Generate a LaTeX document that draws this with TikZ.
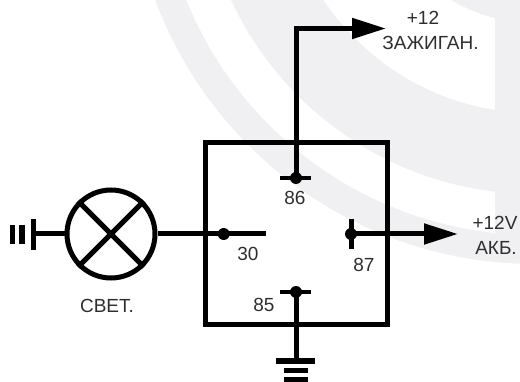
\documentclass[tikz,border=0pt]{standalone}
\usepackage{fontspec}
\setmainfont{Liberation Sans}
\usetikzlibrary{arrows.meta}
\definecolor{band}{HTML}{F0F0F3}
\definecolor{txt}{HTML}{2E2E2E}
\tikzset{
  wire/.style={draw=black,line width=5pt,line join=miter},
  bar/.style={draw=black,line width=4.6pt},
  lbl/.style={font=\fontsize{19}{21}\selectfont,text=txt,inner sep=0pt,text height=13.5pt,text depth=0pt,anchor=center},
  contact/.style={circle,fill=black,inner sep=0pt,minimum size=12pt},
  tip/.style={-{Triangle[length=34pt,width=20pt]}},
}
\begin{document}
\begin{tikzpicture}[x=1pt,y=-1pt]
\useasboundingbox (0,0) rectangle (520,382);
% watermark
\begin{scope}
  \clip (0,0) rectangle (520,382);
  \fill[band] (535,-141) circle[radius=405];
  \begin{scope}
    \clip (0,0) rectangle (495,382);
    \fill[white] (535,-141) circle[radius=376];
    \fill[band] (535,-141) circle[radius=335];
    \fill[white] (535,-141) circle[radius=254];
    \fill[band] (535,-141) circle[radius=164];
  \end{scope}
\end{scope}
% relay box
\node[draw=black,line width=5pt,minimum width=182pt,minimum height=182pt,inner sep=0pt] (relay) at (296,234) {};
% lamp
\node[circle,draw=black,line width=5pt,minimum size=88pt,inner sep=0pt,fill=none] (lamp) at (111,234) {};
\draw[line width=5pt] (lamp.45) -- (lamp.225);
\draw[line width=5pt] (lamp.135) -- (lamp.315);
% contacts
\node[contact] (c30) at (223.7,234) {};
\node[contact] (c86) at (296,178) {};
\node[contact] (c87) at (351,234) {};
\node[contact] (c85) at (296,292) {};
% coordinates
\coordinate (g1) at (33.5,234);
\coordinate (e30) at (265.7,234);
\coordinate (corner) at (296,28.5);
\coordinate (t86) at (386,28.5);
\coordinate (t87) at (458,234);
\coordinate (gnd) at (296,361);
% connectors
\draw[wire] (g1) -- (lamp.west);
\draw[wire] (lamp.east) -- (c30.center) -- (e30);
\draw[wire,tip] (c86.center) -- (corner) -- (t86);
\draw[wire,tip] (c87.center) -- (t87);
\draw[wire] (c85.center) -- (gnd);
% contact bars
\draw[bar] (280,178) -- (311,178);
\draw[bar] (351.5,219) -- (351.5,249);
\draw[bar] (280,292) -- (311,292);
% ground left
\draw[line width=5pt] (33.5,219) -- (33.5,250);
\draw[line width=5.4pt] (12.7,225) -- (12.7,244);
\draw[line width=5.4pt] (21.8,225) -- (21.8,244);
% ground bottom
\draw[line width=6pt] (276,361) -- (315,361);
\draw[line width=5pt] (284,371) -- (308,371);
\draw[line width=5pt] (284,379.3) -- (308,379.3);
% labels
\node[lbl] (l86) at (295,198) {86};
\node[lbl] (l30) at (248,254) {30};
\node[lbl] (l87) at (364,265) {87};
\node[lbl] (l85) at (264,305) {85};
\node[lbl] (lsv) at (107,306) {СВЕТ.};
\node[lbl] (lp12) at (423,18) {+12};
\node[lbl] (lz) at (430.5,43) {ЗАЖИГАН.};
\node[lbl] (lp12v) at (495,223) {+12V};
\node[lbl] (lak) at (496,248) {АКБ.};
\end{tikzpicture}
\end{document}
